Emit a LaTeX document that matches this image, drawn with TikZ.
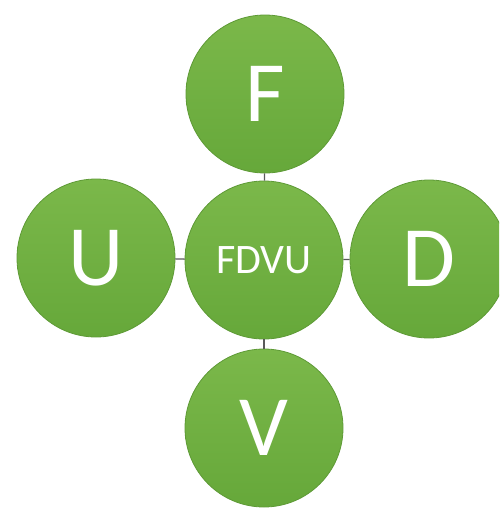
\documentclass[tikz,border=0pt]{standalone}
\usepackage{fontspec}
\setmainfont{Carlito}
\usepackage{xcolor}
\definecolor{BubTop}{HTML}{7BB84A}
\definecolor{BubBot}{HTML}{66A83A}
\definecolor{BubEdge}{HTML}{5E9A36}
\definecolor{LinkGray}{HTML}{5A5A5A}

\tikzset{
  bubble/.style={circle,minimum size=158pt,inner sep=0pt,draw=BubEdge,line width=0.8pt,
    top color=BubTop,bottom color=BubBot,text=white},
  bigletter/.style={font=\fontsize{86}{86}\selectfont},
  link/.style={LinkGray,line width=1.4pt}
}

\begin{document}
\begin{tikzpicture}[x=1pt,y=-1pt]
\path[use as bounding box] (0,0) rectangle (499,509);
\clip (0,0) rectangle (499,509);
% hub and its four satellites
\node[bubble,font=\fontsize{42}{42}\selectfont] (hub) at (264,260) {FDVU};
\node[bubble,bigletter] (f) at (265,94) {F};
\node[bubble,bigletter] (u) at (96,258) {U};
\node[bubble,bigletter] (d) at (429,259) {D};
\node[bubble,bigletter] (v) at (264,428) {V};
% short links
\draw[link] (hub) -- (f);
\draw[link] (hub) -- (u);
\draw[link] (hub) -- (d);
\draw[link] (hub) -- (v);
\end{tikzpicture}
\end{document}
